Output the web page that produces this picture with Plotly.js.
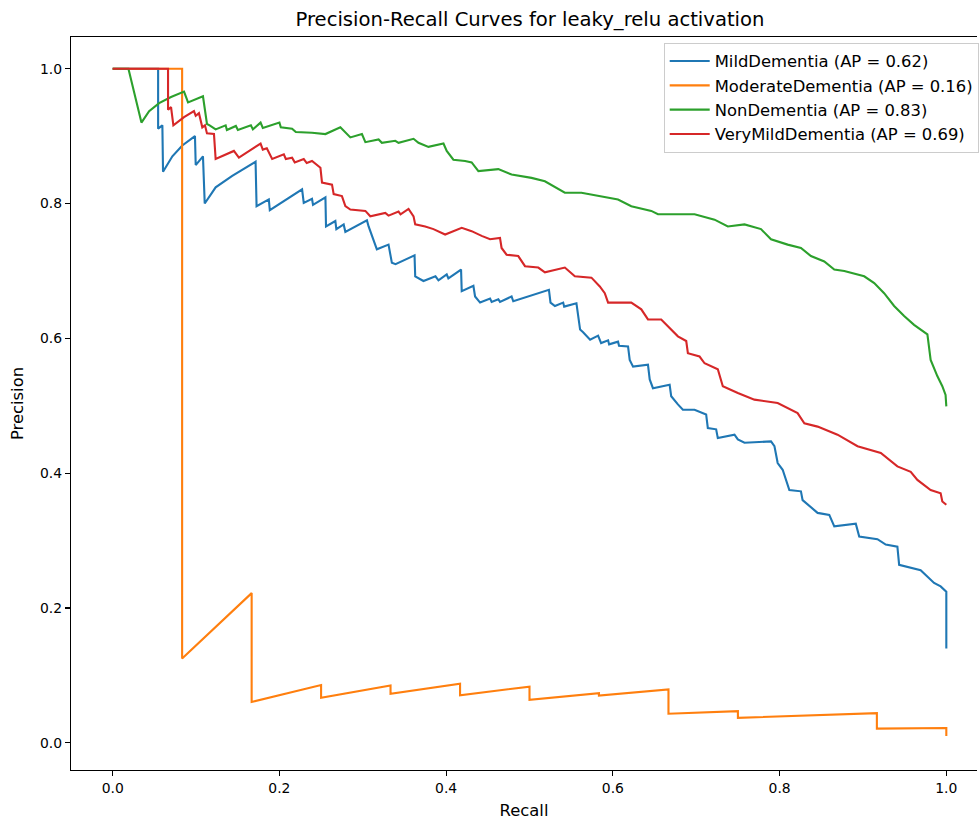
<!DOCTYPE html>
<html>
<head>
<meta charset="utf-8">
<script src="https://cdn.plot.ly/plotly-3.0.1.min.js"></script>
<style>
  html, body { margin: 0; padding: 0; background: #ffffff; }
  #chart { width: 979px; height: 820px; }
</style>
</head>
<body>
<div id="chart"></div>
<script>
// Per-class precision-recall curves (leaky_relu model)
const classNames = ['MildDementia', 'ModerateDementia', 'NonDementia', 'VeryMildDementia'];
const apScores = [0.62, 0.16, 0.83, 0.69];
const lineColors = ['#1f77b4', '#ff7f0e', '#2ca02c', '#d62728'];

const mildRecall = [0, 0.0545, 0.0545, 0.0596, 0.0604, 0.0716, 0.0835, 0.0987, 0.0996, 0.1083, 0.1104, 0.1235, 0.1434, 0.1594, 0.1714, 0.1726, 0.1873, 0.1885, 0.2272, 0.2292, 0.2391, 0.2403, 0.2552, 0.2559, 0.2671, 0.2683, 0.2771, 0.2791, 0.3050, 0.3070, 0.3118, 0.3169, 0.3309, 0.3349, 0.3393, 0.3621, 0.3629, 0.3728, 0.3872, 0.3908, 0.4007, 0.4027, 0.4179, 0.4187, 0.4327, 0.4347, 0.4407, 0.4527, 0.4546, 0.4626, 0.4646, 0.4785, 0.4805, 0.5233, 0.5252, 0.5305, 0.5404, 0.5416, 0.5563, 0.5595, 0.5607, 0.5643, 0.5727, 0.5823, 0.5859, 0.5943, 0.5955, 0.6062, 0.6074, 0.6182, 0.6202, 0.6242, 0.6421, 0.6442, 0.6481, 0.6681, 0.6700, 0.6780, 0.6840, 0.6980, 0.7119, 0.7139, 0.7239, 0.7259, 0.7459, 0.7499, 0.7579, 0.7897, 0.7938, 0.7977, 0.8037, 0.8117, 0.8256, 0.8276, 0.8376, 0.8456, 0.8596, 0.8656, 0.8914, 0.8955, 0.9174, 0.9273, 0.9413, 0.9434, 0.9692, 0.9772, 0.9853, 0.9932, 1.0, 1.0];
const mildPrecision = [1.0, 1.0, 0.911, 0.916, 0.847, 0.870, 0.886, 0.900, 0.857, 0.870, 0.800, 0.824, 0.841, 0.853, 0.862, 0.796, 0.806, 0.790, 0.821, 0.801, 0.807, 0.798, 0.809, 0.766, 0.774, 0.762, 0.769, 0.758, 0.775, 0.766, 0.749, 0.732, 0.739, 0.712, 0.710, 0.723, 0.692, 0.685, 0.692, 0.686, 0.695, 0.689, 0.702, 0.670, 0.678, 0.662, 0.653, 0.659, 0.654, 0.658, 0.654, 0.662, 0.655, 0.672, 0.653, 0.648, 0.653, 0.647, 0.652, 0.628, 0.613, 0.609, 0.598, 0.604, 0.593, 0.597, 0.591, 0.595, 0.589, 0.588, 0.568, 0.558, 0.561, 0.539, 0.526, 0.531, 0.514, 0.502, 0.494, 0.494, 0.487, 0.467, 0.465, 0.452, 0.457, 0.450, 0.445, 0.447, 0.440, 0.415, 0.405, 0.375, 0.373, 0.360, 0.350, 0.341, 0.338, 0.321, 0.325, 0.306, 0.302, 0.294, 0.291, 0.264, 0.256, 0.246, 0.237, 0.232, 0.224, 0.140];

const moderateRecall = [0, 0.0833, 0.0833, 0.1667, 0.1667, 0.25, 0.25, 0.3333, 0.3333, 0.4167, 0.4167, 0.5, 0.5, 0.5833, 0.5833, 0.6667, 0.6667, 0.75, 0.75, 0.9167, 0.9167, 1.0, 1.0];
const moderatePrecision = [1.0, 1.0, 0.125, 0.222, 0.0606, 0.0857, 0.0667, 0.0851, 0.0727, 0.0877, 0.0704, 0.0833, 0.0638, 0.0737, 0.070, 0.079, 0.043, 0.047, 0.037, 0.044, 0.021, 0.022, 0.0099];

const nonRecall = [0, 0.0189, 0.0345, 0.0437, 0.0557, 0.0700, 0.0856, 0.0904, 0.1083, 0.1104, 0.1119, 0.1131, 0.1163, 0.1235, 0.1355, 0.1370, 0.1478, 0.1502, 0.1658, 0.1682, 0.1774, 0.1801, 0.2000, 0.2017, 0.2152, 0.2197, 0.2391, 0.2552, 0.2731, 0.2851, 0.2990, 0.3031, 0.3190, 0.3229, 0.3390, 0.3429, 0.3609, 0.3668, 0.3788, 0.3968, 0.4007, 0.4087, 0.4227, 0.4306, 0.4387, 0.4626, 0.4785, 0.5024, 0.5185, 0.5424, 0.5623, 0.5823, 0.6062, 0.6221, 0.6461, 0.6541, 0.6741, 0.6980, 0.7220, 0.7379, 0.7579, 0.7777, 0.7897, 0.8097, 0.8256, 0.8376, 0.8536, 0.8656, 0.8776, 0.9015, 0.9135, 0.9254, 0.9374, 0.9494, 0.9613, 0.9773, 0.9812, 0.9892, 0.9952, 0.9991, 1.0];
const nonPrecision = [1.0, 1.0, 0.920, 0.937, 0.949, 0.958, 0.966, 0.950, 0.959, 0.943, 0.932, 0.918, 0.916, 0.910, 0.916, 0.909, 0.915, 0.909, 0.916, 0.910, 0.920, 0.912, 0.920, 0.913, 0.911, 0.906, 0.905, 0.903, 0.913, 0.898, 0.903, 0.891, 0.895, 0.890, 0.893, 0.890, 0.896, 0.890, 0.884, 0.889, 0.878, 0.865, 0.863, 0.861, 0.848, 0.851, 0.843, 0.838, 0.833, 0.816, 0.816, 0.811, 0.806, 0.796, 0.789, 0.784, 0.784, 0.784, 0.776, 0.766, 0.769, 0.762, 0.747, 0.739, 0.734, 0.722, 0.714, 0.702, 0.700, 0.692, 0.682, 0.667, 0.648, 0.633, 0.620, 0.606, 0.568, 0.544, 0.529, 0.516, 0.499];

const veryMildRecall = [0, 0.0664, 0.0664, 0.0700, 0.0728, 0.0856, 0.0975, 0.0996, 0.1035, 0.1075, 0.1107, 0.1131, 0.1215, 0.1235, 0.1454, 0.1514, 0.1774, 0.1801, 0.1849, 0.1913, 0.2053, 0.2077, 0.2152, 0.2184, 0.2292, 0.2328, 0.2391, 0.2492, 0.2511, 0.2631, 0.2651, 0.2750, 0.2791, 0.2851, 0.3031, 0.3090, 0.3270, 0.3309, 0.3429, 0.3453, 0.3549, 0.3609, 0.3629, 0.3749, 0.3848, 0.3988, 0.4187, 0.4306, 0.4426, 0.4527, 0.4646, 0.4665, 0.4725, 0.4865, 0.4946, 0.5105, 0.5185, 0.5424, 0.5544, 0.5743, 0.5843, 0.5903, 0.5943, 0.6221, 0.6341, 0.6421, 0.6580, 0.6780, 0.6880, 0.6900, 0.7040, 0.7100, 0.7259, 0.7319, 0.7499, 0.7698, 0.7977, 0.8216, 0.8297, 0.8456, 0.8695, 0.8935, 0.9214, 0.9413, 0.9573, 0.9653, 0.9812, 0.9932, 0.9952, 1.0];
const veryMildPrecision = [1.0, 1.0, 0.939, 0.943, 0.916, 0.928, 0.937, 0.930, 0.934, 0.913, 0.916, 0.904, 0.903, 0.866, 0.878, 0.868, 0.889, 0.880, 0.882, 0.866, 0.873, 0.866, 0.868, 0.861, 0.866, 0.860, 0.863, 0.853, 0.831, 0.828, 0.814, 0.811, 0.796, 0.791, 0.789, 0.781, 0.786, 0.782, 0.788, 0.784, 0.792, 0.781, 0.769, 0.766, 0.762, 0.754, 0.764, 0.759, 0.752, 0.747, 0.749, 0.734, 0.724, 0.722, 0.707, 0.705, 0.698, 0.705, 0.692, 0.690, 0.677, 0.667, 0.653, 0.653, 0.643, 0.628, 0.628, 0.603, 0.596, 0.578, 0.573, 0.563, 0.554, 0.529, 0.519, 0.509, 0.504, 0.489, 0.474, 0.469, 0.457, 0.440, 0.430, 0.410, 0.402, 0.390, 0.375, 0.370, 0.358, 0.353];

const recallSeries = [mildRecall, moderateRecall, nonRecall, veryMildRecall];
const precisionSeries = [mildPrecision, moderatePrecision, nonPrecision, veryMildPrecision];

const xTicks = [0, 0.2, 0.4, 0.6, 0.8, 1.0];
const xTickText = ['0.0', '0.2', '0.4', '0.6', '0.8', '1.0'];
const yTicks = [0, 0.2, 0.4, 0.6, 0.8, 1.0];
const yTickText = ['0.0', '0.2', '0.4', '0.6', '0.8', '1.0'];

const baseFont = 'DejaVu Sans, Liberation Sans, sans-serif';

const traces = classNames.map((name, i) => ({
  type: 'scatter',
  mode: 'lines',
  x: recallSeries[i],
  y: precisionSeries[i],
  name: name + ' (AP = ' + apScores[i].toFixed(2) + ')',
  line: { color: lineColors[i], width: 2.1 },
  hoverinfo: 'x+y+name'
}));

const axisCommon = {
  showgrid: false,
  zeroline: false,
  showline: true,
  linecolor: '#000000',
  linewidth: 1.1,
  ticks: 'outside',
  ticklen: 5,
  tickwidth: 1.1,
  tickcolor: '#000000',
  tickfont: { family: baseFont, size: 13.9, color: '#000000' }
};

const layout = {
  width: 979,
  height: 820,
  margin: { l: 71, r: 0, t: 37, b: 50 },
  paper_bgcolor: '#ffffff',
  plot_bgcolor: '#ffffff',
  font: { family: baseFont, size: 13.9, color: '#000000' },
  title: {
    text: 'Precision-Recall Curves for leaky_relu activation',
    font: { family: baseFont, size: 19.6, color: '#000000' },
    xref: 'paper', x: 0.5066, xanchor: 'center',
    yref: 'container', y: 0.977, yanchor: 'middle'
  },
  xaxis: Object.assign({}, axisCommon, {
    range: [-0.05, 1.0368],
    tickvals: xTicks,
    ticktext: xTickText,
    mirror: true,
    title: { text: 'Recall', font: { family: baseFont, size: 16.4, color: '#000000' }, standoff: 10 }
  }),
  yaxis: Object.assign({}, axisCommon, {
    range: [-0.0404, 1.047],
    tickvals: yTicks,
    ticktext: yTickText,
    title: { text: 'Precision', font: { family: baseFont, size: 16.4, color: '#000000' }, standoff: 12 }
  }),
  showlegend: true,
  legend: {
    x: 0.6542, xanchor: 'left',
    y: 0.992, yanchor: 'top',
    bgcolor: 'rgba(255,255,255,0.8)',
    bordercolor: '#cccccc',
    borderwidth: 1,
    font: { family: baseFont, size: 16.4, color: '#000000' },
    itemwidth: 40
  }
};

Plotly.newPlot('chart', traces, layout, { displayModeBar: false, staticPlot: true });
</script>
</body>
</html>
